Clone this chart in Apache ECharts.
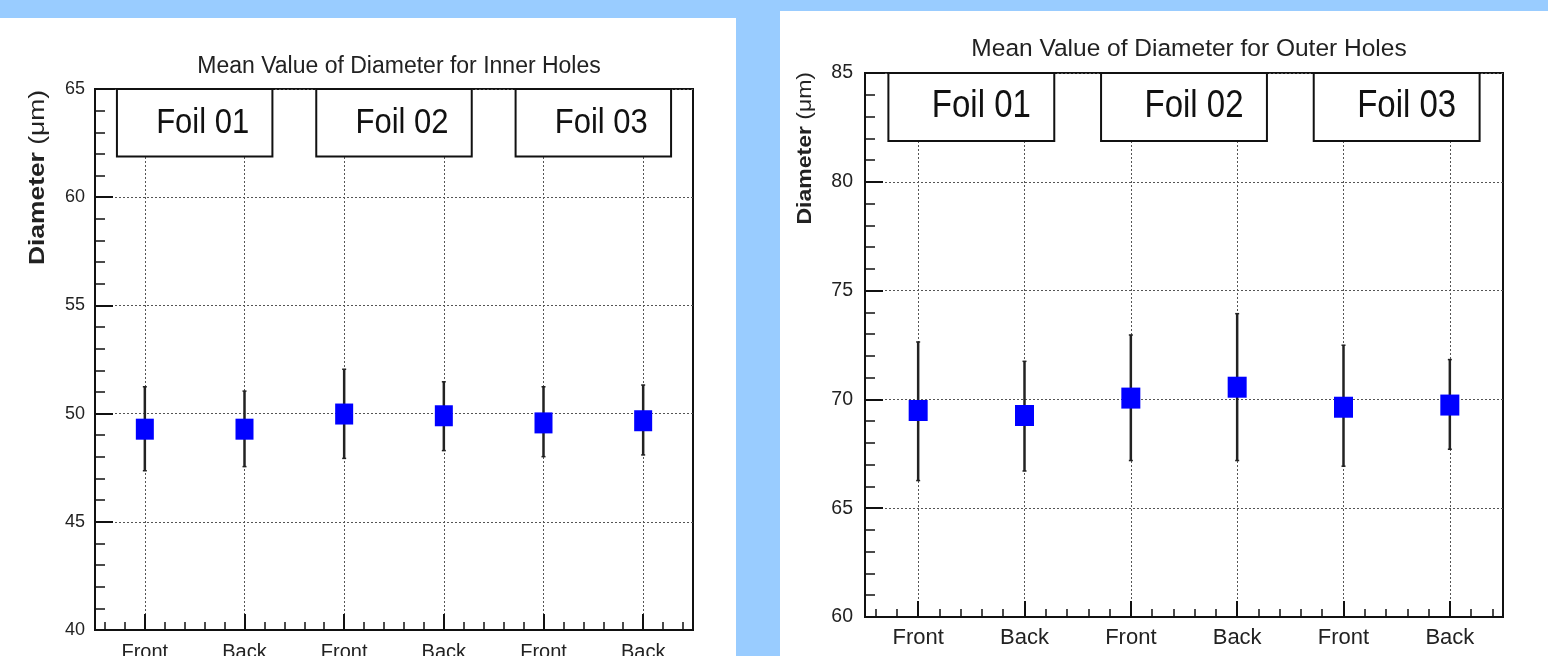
<!DOCTYPE html>
<html>
<head>
<meta charset="utf-8">
<script src="https://cdn.jsdelivr.net/npm/echarts@6/dist/echarts.min.js"></script>
<style>
  html, body { margin: 0; padding: 0; width: 1548px; height: 656px; overflow: hidden; background: #99ccff; }
  .panel { position: absolute; background: #fff; }
  #inner { left: 0; top: 18px; width: 736px; height: 638px; }
  #outer { left: 780px; top: 11px; width: 768px; height: 645px; }
</style>
</head>
<body>
<div id="inner" class="panel"></div>
<div id="outer" class="panel"></div>
<script>
const categories = ['Front', 'Back', 'Front', 'Back', 'Front', 'Back']
const foils = ['Foil 01', 'Foil 02', 'Foil 03']

// inner holes (um)
const innerMean = [49.28, 49.28, 49.98, 49.9, 49.57, 49.67]
const innerLow = [47.36, 47.55, 47.93, 48.29, 48.01, 48.09]
const innerHigh = [51.24, 51.04, 52.05, 51.47, 51.24, 51.32]

// outer holes (um)
const outerMean = [69.49, 69.26, 70.06, 70.56, 69.64, 69.74]
const outerLow = [66.27, 66.71, 67.19, 67.19, 66.93, 67.71]
const outerHigh = [72.64, 71.75, 72.96, 73.94, 72.49, 71.83]

const font = '"Liberation Sans", Arial, Helvetica, sans-serif'
const ink = '#111'
const textInk = '#222'

function buildOption(p) {
	const n = categories.length
	const centers = categories.map((c, i) => i + 0.5)
	const minor = []
	for (let k = 0; k < n * 5; k++) minor.push(+(0.1 + k * 0.2).toFixed(1))

	const points = p.mean.map((v, i) => [i + 0.5, v])
	const bars = p.low.map((v, i) => [i + 0.5, v, p.high[i]])
	// each foil spans one Front/Back pair
	const boxes = foils.map((f, k) => [2 * k + 0.22, 2 * k + 1.78, p.yMax - 3.12, p.yMax])

	const dotted = { type: [2, 2], color: '#555', width: 1 }

	return {
		animation: false,
		title: {
			text: p.title,
			left: p.titleX,
			top: p.titleTop,
			textAlign: 'center',
			textStyle: { fontFamily: font, fontSize: p.titleSize, fontWeight: 'normal', color: textInk },
		},
		graphic: [
			{
				type: 'text',
				x: p.nameX,
				y: p.nameY,
				rotation: Math.PI / 2,
				scaleX: p.nameStretch,
				style: {
					text: '{b|Diameter} (\u03bcm)',
					fontFamily: font,
					fontSize: p.nameSize,
					fill: textInk,
					align: 'right',
					verticalAlign: 'middle',
					rich: {
						b: { fontFamily: font, fontSize: p.nameSize, fontWeight: 'bold', fill: textInk },
					},
				},
			},
		],
		grid: {
			left: p.grid[0],
			top: p.grid[1],
			width: p.grid[2],
			height: p.grid[3],
			outerBoundsMode: 'none',
			containLabel: false,
			show: true,
			borderColor: ink,
			borderWidth: 2,
			backgroundColor: 'transparent',
		},
		xAxis: [
			{
				type: 'value',
				min: 0,
				max: n,
				position: 'bottom',
				axisLine: { show: true, onZero: false, lineStyle: { color: ink, width: 2 } },
				axisTick: { show: true, inside: true, length: 16, customValues: centers, lineStyle: { color: ink, width: 2 } },
				axisLabel: {
					customValues: centers,
					formatter: (v) => categories[Math.floor(v)],
					margin: p.xMargin,
					fontFamily: font,
					fontSize: p.xSize,
					color: textInk,
				},
				splitLine: { show: true, lineStyle: dotted },
			},
			{
				type: 'value',
				min: 0,
				max: n,
				position: 'bottom',
				axisLine: { show: false, onZero: false },
				axisTick: { show: true, inside: true, length: 8, customValues: minor, lineStyle: { color: ink, width: 1.5 } },
				axisLabel: { show: false },
				splitLine: { show: false },
			},
		],
		yAxis: {
			type: 'value',
			min: p.yMin,
			max: p.yMax,
			interval: 5,
			axisLine: { show: true, lineStyle: { color: ink, width: 2 } },
			axisTick: { show: true, inside: true, length: 18, lineStyle: { color: ink, width: 2 } },
			minorTick: { show: true, splitNumber: 5, length: 10, lineStyle: { color: ink, width: 1.5 } },
			axisLabel: { margin: p.yMargin, fontFamily: font, fontSize: p.ySize, color: textInk },
			splitLine: { show: true, lineStyle: dotted },
		},
		series: [
			{
				type: 'custom',
				name: 'error',
				xAxisIndex: 0,
				data: bars,
				encode: { x: 0, y: [1, 2] },
				z: 3,
				renderItem: (params, api) => {
					const x = api.value(0)
					const lo = api.coord([x, api.value(1)])
					const hi = api.coord([x, api.value(2)])
					const st = { stroke: '#222', lineWidth: 2.5 }
					const cap = { stroke: '#222', lineWidth: 1.5 }
					return {
						type: 'group',
						children: [
							{ type: 'line', shape: { x1: lo[0], y1: lo[1], x2: hi[0], y2: hi[1] }, style: st },
							{ type: 'line', shape: { x1: lo[0] - 2, y1: lo[1], x2: lo[0] + 2, y2: lo[1] }, style: cap },
							{ type: 'line', shape: { x1: hi[0] - 2, y1: hi[1], x2: hi[0] + 2, y2: hi[1] }, style: cap },
						],
					}
				},
			},
			{
				type: 'scatter',
				name: 'mean',
				xAxisIndex: 0,
				data: points,
				symbol: 'rect',
				symbolSize: p.marker,
				z: 4,
				itemStyle: { color: '#0000ff', opacity: 1 },
			},
			{
				type: 'custom',
				name: 'foils',
				xAxisIndex: 0,
				data: boxes,
				encode: { x: [0, 1], y: [2, 3] },
				clip: false,
				z: 5,
				renderItem: (params, api) => {
					const a = api.coord([api.value(0), api.value(3)])
					const b = api.coord([api.value(1), api.value(2)])
					return {
						type: 'group',
						children: [
							{
								type: 'rect',
								shape: { x: a[0], y: a[1], width: b[0] - a[0], height: b[1] - a[1] },
								style: { fill: '#fff', stroke: ink, lineWidth: 2 },
							},
							{
								type: 'text',
								x: (a[0] + b[0]) / 2 + p.foilShift,
								y: (a[1] + b[1]) / 2,
								scaleY: 1.15,
								style: {
									text: foils[params.dataIndex],
									fontFamily: font,
									fontSize: p.foilSize,
									fill: '#111',
									align: 'center',
									verticalAlign: 'middle',
								},
							},
						],
					}
				},
			},
		],
	}
}

const innerChart = echarts.init(document.getElementById('inner'))
innerChart.setOption(
	buildOption({
		title: 'Mean Value of Diameter for Inner Holes',
		titleX: 394,
		titleTop: 32,
		titleSize: 23,
		nameX: 38,
		nameY: 72,
		nameSize: 22,
		nameStretch: 1.2,
		grid: [95, 71, 598, 541],
		yMin: 40,
		yMax: 65,
		mean: innerMean,
		low: innerLow,
		high: innerHigh,
		marker: [18, 21],
		xSize: 20,
		xMargin: 12,
		ySize: 18,
		yMargin: 10,
		foilSize: 31,
		foilShift: 8,
	})
)

const outerChart = echarts.init(document.getElementById('outer'))
outerChart.setOption(
	buildOption({
		title: 'Mean Value of Diameter for Outer Holes',
		titleX: 404,
		titleTop: 21,
		titleSize: 24.5,
		nameX: 25,
		nameY: 61,
		nameSize: 20,
		nameStretch: 1.15,
		grid: [85, 62, 638, 544],
		yMin: 60,
		yMax: 85,
		mean: outerMean,
		low: outerLow,
		high: outerHigh,
		marker: [19, 21],
		xSize: 22,
		xMargin: 10,
		ySize: 19.5,
		yMargin: 12,
		foilSize: 33,
		foilShift: 10,
	})
)
</script>
</body>
</html>
